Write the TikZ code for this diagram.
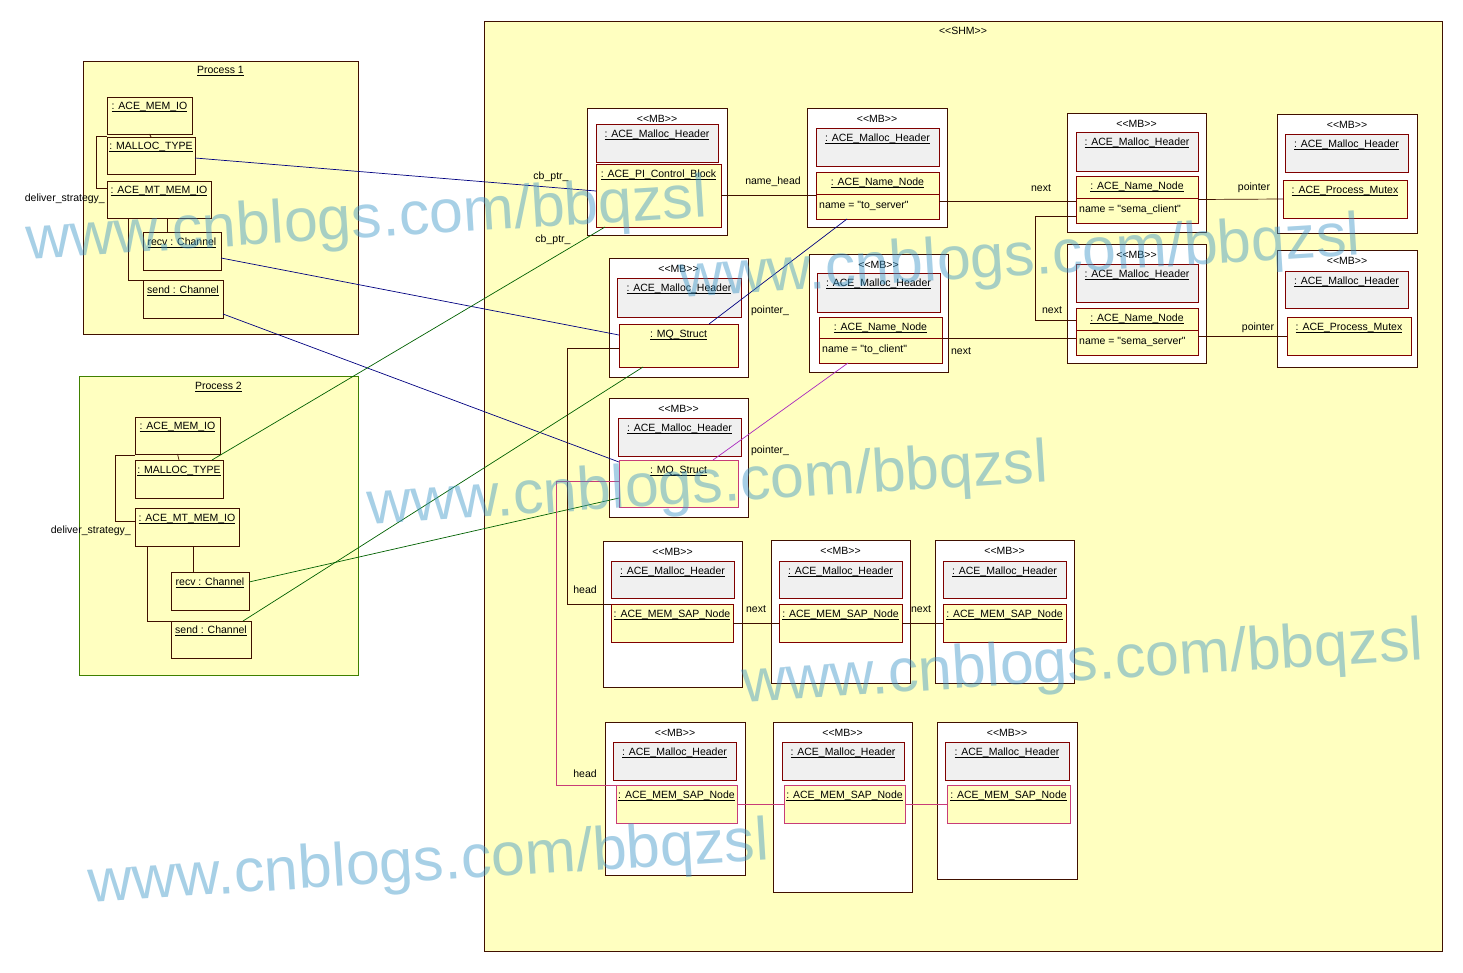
\documentclass[tikz,border=0pt]{standalone}
\usepackage{fontspec}
\newfontfamily\umlfont{Liberation Sans}
\newcommand{\umlname}[1]{\underline{\raisebox{0pt}[\height][0pt]{#1}}}
\definecolor{shmyellow}{RGB}{255,255,192}
\definecolor{hdrgray}{RGB}{240,240,240}
\definecolor{boxline}{RGB}{64,16,0}
\definecolor{objline}{RGB}{128,0,0}
\definecolor{procgreen}{RGB}{64,128,0}
\definecolor{linknavy}{RGB}{0,0,128}
\definecolor{linkgreen}{RGB}{0,96,0}
\definecolor{linkpink}{RGB}{200,60,120}
\definecolor{linkmagenta}{RGB}{170,40,190}
\definecolor{markblue}{RGB}{60,150,200}

\begin{document}
\begin{tikzpicture}[x=1pt, y=-1pt,
    every node/.style={font=\umlfont\fontsize{10.5}{12}\selectfont, inner sep=0pt},
    box/.style={draw=boxline, line width=0.8pt, anchor=north west, inner sep=0pt, outer sep=0pt},
    mb/.style={box, fill=white},
    hdr/.style={box, draw=objline, fill=hdrgray},
    obj/.style={box, draw=objline, fill=shmyellow},
    pobj/.style={box, fill=shmyellow},
    pinkobj/.style={box, draw=linkpink, fill=shmyellow},
    ttl/.style={anchor=center},
    attr/.style={anchor=west},
    link/.style={line width=0.7pt},
    wmark/.style={font=\umlfont\fontsize{61}{61}\selectfont, text=markblue, text opacity=0.45, rotate=3.6}]
    \useasboundingbox (0,0) rectangle (1463,972);

    % shared memory and the two processes
    \node[box, fill=shmyellow, minimum width=958, minimum height=930] (shm) at (484,21) {};
    \node[ttl] (shmt) at ([yshift=-10pt]shm.north) {<<SHM>>};
    \node[pobj, minimum width=275, minimum height=273] (proc1) at (83,61) {};
    \node[ttl] (proc1t) at ([yshift=-10pt]proc1.north) {\umlname{Process 1}};
    \node[pobj, draw=procgreen, minimum width=279, minimum height=299] (proc2) at (79,376) {};
    \node[ttl] (proc2t) at ([yshift=-11pt]proc2.north) {\umlname{Process 2}};

    % objects of process 1
    \node[pobj, minimum width=85, minimum height=37] (p1mem) at (107,97) {};
    \node[pobj, minimum width=88, minimum height=37] (p1mal) at (107,137) {};
    \node[pobj, minimum width=104, minimum height=37] (p1mt) at (107,181) {};
    \node[pobj, minimum width=78, minimum height=38] (p1recv) at (143,232) {};
    \node[pobj, minimum width=80, minimum height=38] (p1send) at (143,280) {};
    \node[ttl] (p1memt) at ([yshift=-10pt]p1mem.north) {\umlname{: ACE\_MEM\_IO}};
    \node[ttl] (p1malt) at ([yshift=-10pt]p1mal.north) {\umlname{: MALLOC\_TYPE}};
    \node[ttl] (p1mtt) at ([yshift=-10pt]p1mt.north) {\umlname{: ACE\_MT\_MEM\_IO}};
    \node[ttl] (p1recvt) at ([yshift=-11pt]p1recv.north) {\umlname{recv : Channel}};
    \node[ttl] (p1sendt) at ([yshift=-11pt]p1send.north) {\umlname{send : Channel}};
    \draw[boxline, link] (p1mem.south) -- (p1mal.north);
    \draw[boxline, link] ([yshift=-2pt]p1mem.south west) -- ++(-11,0) |- ([yshift=11.5pt]p1mt.west);
    \draw[boxline, link] ([xshift=8pt]p1mt.south) -- ([xshift=8pt]p1mt.south |- p1recv.north);
    \draw[boxline, link] ([xshift=-31pt]p1mt.south) |- (p1send.north west);
    \node[anchor=east] (p1del) at (105,199) {deliver\_strategy\_};

    % objects of process 2
    \node[pobj, minimum width=85, minimum height=37] (p2mem) at (135,417) {};
    \node[pobj, minimum width=88, minimum height=38] (p2mal) at (135,460) {};
    \node[pobj, minimum width=104, minimum height=38] (p2mt) at (135,508) {};
    \node[pobj, minimum width=78, minimum height=38] (p2recv) at (171,572) {};
    \node[pobj, minimum width=80, minimum height=37] (p2send) at (171,621) {};
    \node[ttl] (p2memt) at ([yshift=-10pt]p2mem.north) {\umlname{: ACE\_MEM\_IO}};
    \node[ttl] (p2malt) at ([yshift=-11pt]p2mal.north) {\umlname{: MALLOC\_TYPE}};
    \node[ttl] (p2mtt) at ([yshift=-11pt]p2mt.north) {\umlname{: ACE\_MT\_MEM\_IO}};
    \node[ttl] (p2recvt) at ([yshift=-11pt]p2recv.north) {\umlname{recv : Channel}};
    \node[ttl] (p2sendt) at ([yshift=-10pt]p2send.north) {\umlname{send : Channel}};
    \draw[boxline, link] (p2mem.south) -- (p2mal.north);
    \draw[boxline, link] ([yshift=-1pt]p2mem.south west) -- ++(-20,0) |- ([yshift=6pt]p2mt.west);
    \draw[boxline, link] ([xshift=6pt]p2mt.south) -- ([xshift=6pt]p2mt.south |- p2recv.north);
    \draw[boxline, link] ([xshift=-40pt]p2mt.south) |- (p2send.north west);
    \node[anchor=east] (p2del) at (131,531) {deliver\_strategy\_};

    % memory blocks of the name list
    \node[mb, minimum width=140, minimum height=127] (mbA) at (587,108) {};
    \node[hdr, minimum width=122, minimum height=38] (hA) at (596,124) {};
    \node[obj, minimum width=125, minimum height=63] (pcb) at (596,164) {};
    \node[mb, minimum width=140, minimum height=119] (mbB) at (807,108) {};
    \node[hdr, minimum width=123, minimum height=38] (hB) at (816,128) {};
    \node[obj, minimum width=123, minimum height=47] (nnB) at (816,172) {};
    \node[mb, minimum width=139, minimum height=118] (mbD) at (809,254) {};
    \node[hdr, minimum width=123, minimum height=39] (hD) at (817,273) {};
    \node[obj, minimum width=123, minimum height=46] (nnD) at (819,317) {};
    \node[mb, minimum width=139, minimum height=119] (mbE) at (1067,113) {};
    \node[hdr, minimum width=122, minimum height=39] (hE) at (1076,132) {};
    \node[obj, minimum width=122, minimum height=47] (nnE) at (1076,176) {};
    \node[mb, minimum width=139, minimum height=119] (mbG) at (1067,244) {};
    \node[hdr, minimum width=122, minimum height=38] (hG) at (1076,264) {};
    \node[obj, minimum width=122, minimum height=47] (nnG) at (1076,308) {};
    \node[mb, minimum width=140, minimum height=119] (mbF) at (1277,114) {};
    \node[hdr, minimum width=123, minimum height=38] (hF) at (1285,134) {};
    \node[obj, minimum width=124, minimum height=38] (mxF) at (1283,180) {};
    \node[mb, minimum width=140, minimum height=117] (mbH) at (1277,250) {};
    \node[hdr, minimum width=123, minimum height=37] (hH) at (1285,271) {};
    \node[obj, minimum width=124, minimum height=38] (mxH) at (1287,317) {};

    % memory blocks of the message queues
    \node[mb, minimum width=139, minimum height=119] (mbC) at (609,258) {};
    \node[hdr, minimum width=124, minimum height=39] (hC) at (617,278) {};
    \node[obj, minimum width=119, minimum height=43] (mq1) at (619,324) {};
    \node[mb, minimum width=139, minimum height=119] (mbI) at (609,398) {};
    \node[hdr, minimum width=123, minimum height=38] (hI) at (618,418) {};
    \node[pinkobj, minimum width=119, minimum height=47] (mq2) at (619,460) {};

    % free lists
    \node[mb, minimum width=139, minimum height=146] (mbJ) at (603,541) {};
    \node[hdr, minimum width=123, minimum height=37] (hJ) at (611,561) {};
    \node[obj, minimum width=122, minimum height=38] (sapJ) at (611,604) {};
    \node[mb, minimum width=139, minimum height=143] (mbK) at (771,540) {};
    \node[hdr, minimum width=123, minimum height=37] (hK) at (779,561) {};
    \node[obj, minimum width=123, minimum height=38] (sapK) at (779,604) {};
    \node[mb, minimum width=139, minimum height=143] (mbL) at (935,540) {};
    \node[hdr, minimum width=123, minimum height=37] (hL) at (943,561) {};
    \node[obj, minimum width=123, minimum height=38] (sapL) at (943,604) {};
    \node[mb, minimum width=140, minimum height=153] (mbM) at (605,722) {};
    \node[hdr, minimum width=123, minimum height=38] (hM) at (613,742) {};
    \node[pinkobj, minimum width=121, minimum height=38] (sapM) at (616,785) {};
    \node[mb, minimum width=139, minimum height=170] (mbN) at (773,722) {};
    \node[hdr, minimum width=122, minimum height=38] (hN) at (782,742) {};
    \node[pinkobj, minimum width=121, minimum height=38] (sapN) at (784,785) {};
    \node[mb, minimum width=140, minimum height=157] (mbO) at (937,722) {};
    \node[hdr, minimum width=124, minimum height=38] (hO) at (945,742) {};
    \node[pinkobj, minimum width=123, minimum height=38] (sapO) at (947,785) {};

    % block titles
    \node[ttl] (mbAt) at ([yshift=-11pt]mbA.north) {<<MB>>};
    \node[ttl] (mbBt) at ([yshift=-11pt]mbB.north) {<<MB>>};
    \node[ttl] (mbCt) at ([yshift=-11pt]mbC.north) {<<MB>>};
    \node[ttl] (mbDt) at ([yshift=-11pt]mbD.north) {<<MB>>};
    \node[ttl] (mbEt) at ([yshift=-11pt]mbE.north) {<<MB>>};
    \node[ttl] (mbFt) at ([yshift=-11pt]mbF.north) {<<MB>>};
    \node[ttl] (mbGt) at ([yshift=-11pt]mbG.north) {<<MB>>};
    \node[ttl] (mbHt) at ([yshift=-11pt]mbH.north) {<<MB>>};
    \node[ttl] (mbIt) at ([yshift=-11pt]mbI.north) {<<MB>>};
    \node[ttl] (mbJt) at ([yshift=-11pt]mbJ.north) {<<MB>>};
    \node[ttl] (mbKt) at ([yshift=-11pt]mbK.north) {<<MB>>};
    \node[ttl] (mbLt) at ([yshift=-11pt]mbL.north) {<<MB>>};
    \node[ttl] (mbMt) at ([yshift=-11pt]mbM.north) {<<MB>>};
    \node[ttl] (mbNt) at ([yshift=-11pt]mbN.north) {<<MB>>};
    \node[ttl] (mbOt) at ([yshift=-11pt]mbO.north) {<<MB>>};
    \node[ttl] (hAt) at ([yshift=-11pt]hA.north) {\umlname{: ACE\_Malloc\_Header}};
    \node[ttl] (hBt) at ([yshift=-11pt]hB.north) {\umlname{: ACE\_Malloc\_Header}};
    \node[ttl] (hCt) at ([yshift=-11pt]hC.north) {\umlname{: ACE\_Malloc\_Header}};
    \node[ttl] (hDt) at ([yshift=-11pt]hD.north) {\umlname{: ACE\_Malloc\_Header}};
    \node[ttl] (hEt) at ([yshift=-11pt]hE.north) {\umlname{: ACE\_Malloc\_Header}};
    \node[ttl] (hFt) at ([yshift=-11pt]hF.north) {\umlname{: ACE\_Malloc\_Header}};
    \node[ttl] (hGt) at ([yshift=-11pt]hG.north) {\umlname{: ACE\_Malloc\_Header}};
    \node[ttl] (hHt) at ([yshift=-11pt]hH.north) {\umlname{: ACE\_Malloc\_Header}};
    \node[ttl] (hIt) at ([yshift=-11pt]hI.north) {\umlname{: ACE\_Malloc\_Header}};
    \node[ttl] (hJt) at ([yshift=-11pt]hJ.north) {\umlname{: ACE\_Malloc\_Header}};
    \node[ttl] (hKt) at ([yshift=-11pt]hK.north) {\umlname{: ACE\_Malloc\_Header}};
    \node[ttl] (hLt) at ([yshift=-11pt]hL.north) {\umlname{: ACE\_Malloc\_Header}};
    \node[ttl] (hMt) at ([yshift=-11pt]hM.north) {\umlname{: ACE\_Malloc\_Header}};
    \node[ttl] (hNt) at ([yshift=-11pt]hN.north) {\umlname{: ACE\_Malloc\_Header}};
    \node[ttl] (hOt) at ([yshift=-11pt]hO.north) {\umlname{: ACE\_Malloc\_Header}};
    \node[ttl] (pcbt) at ([yshift=-11pt]pcb.north) {\umlname{: ACE\_PI\_Control\_Block}};
    \node[ttl] (nnBt) at ([yshift=-11pt]nnB.north) {\umlname{: ACE\_Name\_Node}};
    \node[ttl] (nnDt) at ([yshift=-11pt]nnD.north) {\umlname{: ACE\_Name\_Node}};
    \node[ttl] (nnEt) at ([yshift=-11pt]nnE.north) {\umlname{: ACE\_Name\_Node}};
    \node[ttl] (nnGt) at ([yshift=-11pt]nnG.north) {\umlname{: ACE\_Name\_Node}};
    \node[ttl] (mxFt) at ([yshift=-11pt]mxF.north) {\umlname{: ACE\_Process\_Mutex}};
    \node[ttl] (mxHt) at ([yshift=-11pt]mxH.north) {\umlname{: ACE\_Process\_Mutex}};
    \node[ttl] (mq1t) at ([yshift=-11pt]mq1.north) {\umlname{: MQ\_Struct}};
    \node[ttl] (mq2t) at ([yshift=-11pt]mq2.north) {\umlname{: MQ\_Struct}};
    \node[ttl] (sapJt) at ([yshift=-11pt]sapJ.north) {\umlname{: ACE\_MEM\_SAP\_Node}};
    \node[ttl] (sapKt) at ([yshift=-11pt]sapK.north) {\umlname{: ACE\_MEM\_SAP\_Node}};
    \node[ttl] (sapLt) at ([yshift=-11pt]sapL.north) {\umlname{: ACE\_MEM\_SAP\_Node}};
    \node[ttl] (sapMt) at ([yshift=-11pt]sapM.north) {\umlname{: ACE\_MEM\_SAP\_Node}};
    \node[ttl] (sapNt) at ([yshift=-11pt]sapN.north) {\umlname{: ACE\_MEM\_SAP\_Node}};
    \node[ttl] (sapOt) at ([yshift=-11pt]sapO.north) {\umlname{: ACE\_MEM\_SAP\_Node}};

    % name attributes
    \draw[objline, link] ([yshift=-22pt]nnB.north west) -- ([yshift=-22pt]nnB.north east);
    \draw[objline, link] ([yshift=-21pt]nnD.north west) -- ([yshift=-21pt]nnD.north east);
    \draw[objline, link] ([yshift=-22pt]nnE.north west) -- ([yshift=-22pt]nnE.north east);
    \draw[objline, link] ([yshift=-22pt]nnG.north west) -- ([yshift=-22pt]nnG.north east);
    \node[attr] (nnBa) at ([xshift=3pt, yshift=-34pt]nnB.north west) {name = "to\_server"};
    \node[attr] (nnDa) at ([xshift=3pt, yshift=-33pt]nnD.north west) {name = "to\_client"};
    \node[attr] (nnEa) at ([xshift=3pt, yshift=-34pt]nnE.north west) {name = "sema\_client"};
    \node[attr] (nnGa) at ([xshift=3pt, yshift=-34pt]nnG.north west) {name = "sema\_server"};

    % links from the processes
    \draw[link, linknavy] ([yshift=-2.5pt]p1mal.east) -- ([yshift=4.5pt]pcb.west);
    \draw[link, linknavy] ([yshift=-7pt]p1recv.east) -- ([yshift=10.5pt]mq1.west);
    \draw[link, linknavy] ([yshift=-15pt]p1send.east) -- ([yshift=21.5pt]mq2.west);
    \draw[link, linkgreen] ([xshift=33pt]p2mal.north) -- ([xshift=-53.5pt]pcb.south);
    \draw[link, linkgreen] ([xshift=32pt]p2send.north) -- ([xshift=-35.5pt]mq1.south);
    \draw[link, linkgreen] ([yshift=9pt]p2recv.east) -- ([yshift=-14.5pt]mq2.west);
    \node (cbptr1) at (551,177) {cb\_ptr\_};
    \node (cbptr2) at (553,240) {cb\_ptr\_};

    % links inside the shared memory
    \draw[link, boxline] (pcb.east) -- (nnB.west);
    \draw[link, boxline] ([yshift=-5.5pt]nnB.east) -- ([yshift=-1.5pt]nnE.west);
    \draw[link, boxline] (nnE.east) -- (mxF.west);
    \draw[link, boxline] ([yshift=-16.5pt]nnE.west) -- ++(-41,0) |- ([yshift=11.5pt]nnG.west);
    \draw[link, boxline] ([yshift=2pt]nnD.east) -- ([yshift=-6.5pt]nnG.west);
    \draw[link, boxline] ([yshift=-4.5pt]nnG.east) -- (mxH.west);
    \draw[link, linknavy] ([xshift=-30.5pt]nnB.south) -- ([xshift=30.5pt]mq1.north);
    \draw[link, linkmagenta] ([xshift=-32.5pt]nnD.south) -- ([xshift=34.5pt]mq2.north);
    \draw[link, boxline] ([yshift=-2.5pt]mq1.west) -- ++(-52,0) |- (sapJ.north west);
    \draw[link, boxline] (sapJ.east) -- (sapK.west);
    \draw[link, boxline] (sapK.east) -- (sapL.west);
    \draw[link, linkpink] ([yshift=2.5pt]mq2.west) -- ++(-63,0) |- (sapM.north west);
    \draw[link, linkpink] (sapM.east) -- (sapN.west);
    \draw[link, linkpink] (sapN.east) -- (sapO.west);
    \node (namehead) at (773,182) {name\_head};
    \node (next1) at (1041,188) {next};
    \node (ptr1) at (1254,188) {pointer};
    \node (next2) at (1052,310) {next};
    \node (ptr2) at (1258,328) {pointer};
    \node (next3) at (961,351) {next};
    \node (ptrmq1) at (770,311) {pointer\_};
    \node (ptrmq2) at (770,451) {pointer\_};
    \node (head1) at (585,590) {head};
    \node (next4) at (756,609) {next};
    \node (next5) at (921,609) {next};
    \node (head2) at (585,774) {head};

    % watermarks
    \node[wmark] (wm1) at (367,222) {www.cnblogs.com/bbqzsl};
    \node[wmark] (wm2) at (1020,260) {www.cnblogs.com/bbqzsl};
    \node[wmark] (wm3) at (708,487) {www.cnblogs.com/bbqzsl};
    \node[wmark] (wm4) at (1083,665) {www.cnblogs.com/bbqzsl};
    \node[wmark] (wm5) at (429,865) {www.cnblogs.com/bbqzsl};
\end{tikzpicture}
\end{document}
